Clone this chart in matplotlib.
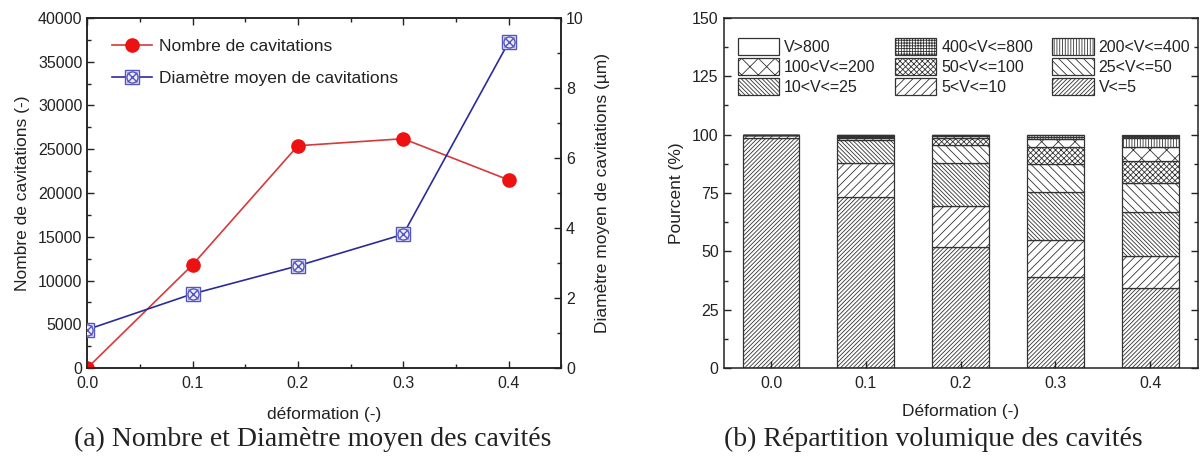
import numpy as np
import matplotlib
matplotlib.use("Agg")
import matplotlib.pyplot as plt
from matplotlib.ticker import MultipleLocator
from matplotlib.legend_handler import HandlerTuple

plt.rcParams['font.family'] = ['Liberation Sans', 'DejaVu Sans']
plt.rcParams['hatch.linewidth'] = 0.6
plt.rcParams['text.color'] = '#222222'
plt.rcParams['axes.labelcolor'] = '#222222'
plt.rcParams['xtick.color'] = '#222222'
plt.rcParams['ytick.color'] = '#222222'

# (a) data
strain = [0.0, 0.1, 0.2, 0.3, 0.4]
n_cav = [0, 11800, 25400, 26200, 21500]
d_moy = [1.1, 2.12, 2.92, 3.82, 9.3]

# (b) data: percentage per volume class, one list per class
strain_labels = ['0.0', '0.1', '0.2', '0.3', '0.4']
classes = ['V<=5', '5<V<=10', '10<V<=25', '25<V<=50', '50<V<=100',
           '100<V<=200', '200<V<=400', '400<V<=800', 'V>800']
v5 = [98.5, 73.5, 52.0, 39.0, 34.5]
v10 = [1.5, 14.5, 17.5, 16.0, 13.5]
v25 = [0.0, 9.5, 18.5, 20.5, 19.0]
v50 = [0.0, 1.2, 7.5, 12.0, 12.5]
v100 = [0.0, 0.5, 3.0, 7.0, 9.0]
v200 = [0.0, 0.4, 0.8, 3.5, 6.0]
v400 = [0.0, 0.2, 0.4, 1.2, 4.0]
v800 = [0.0, 0.1, 0.3, 0.5, 0.8]
vmax = [0.0, 0.1, 0.0, 0.3, 0.7]
hatches = ['/' * 8, '/' * 4, '\\' * 8, '\\' * 4, 'x' * 6, 'xx',
           '|' * 6, '+' * 6, '']

fig = plt.figure(figsize=(12.03, 4.59), dpi=100)

def style_ticks(ax):
    ax.tick_params(which='both', direction='in', labelsize=11.5)
    ax.tick_params(which='major', length=5, width=1)
    ax.tick_params(which='minor', length=3, width=1)
    for s in ax.spines.values():
        s.set_linewidth(1.1)
        s.set_color('#222222')

# ---- (a)
ax1 = fig.add_axes([0.0725, 0.198, 0.394, 0.763])
ax2 = ax1.twinx()
red_line, = ax1.plot(strain, n_cav, color='#d43a3a', lw=1.2, marker='o',
                     ms=9.5, mfc='#ee1111', mec='#ee1111', zorder=3)
ax1.set_xlim(0, 0.45)
ax1.set_ylim(0, 40000)
ax1.xaxis.set_major_locator(MultipleLocator(0.1))
ax1.xaxis.set_minor_locator(MultipleLocator(0.05))
ax1.yaxis.set_major_locator(MultipleLocator(5000))
ax1.yaxis.set_minor_locator(MultipleLocator(2500))
ax1.xaxis.set_major_formatter(lambda v, p: f'{v:.1f}')
ax1.tick_params(which='both', top=True)
style_ticks(ax1)
ax1.tick_params(axis='x', pad=6)
ax1.set_xlabel('déformation (-)', fontsize=12.5, labelpad=11)
ax1.set_ylabel('Nombre de cavitations (-)', fontsize=12.5, labelpad=6)

blue = '#2b2b9a'
bl, = ax2.plot(strain, d_moy, color=blue, lw=1.2, marker='s', ms=10,
               mfc='#eeeefa', mec='#5555c0', mew=1.0, zorder=3)
bc, = ax2.plot(strain, d_moy, ls='none', marker='o', ms=8, mfc='none',
               mec='#5555c0', mew=1.0, zorder=4)
bx, = ax2.plot(strain, d_moy, ls='none', marker='x', ms=7,
               mec='#5555c0', mew=1.0, zorder=4)
ax2.set_ylim(0, 10)
ax2.yaxis.set_major_locator(MultipleLocator(2))
ax2.yaxis.set_minor_locator(MultipleLocator(1))
style_ticks(ax2)
ax2.set_ylabel('Diamètre moyen de cavitations (µm)', fontsize=12.5, labelpad=8)

ax1.legend([red_line, (bl, bc, bx)],
           ['Nombre de cavitations', 'Diamètre moyen de cavitations'],
           handler_map={tuple: HandlerTuple(ndivide=1)},
           loc='upper left', bbox_to_anchor=(0.02, 0.985), frameon=False,
           fontsize=12.5, handlelength=2.3, labelspacing=0.95,
           handletextpad=0.4)

# ---- (b)
ax3 = fig.add_axes([0.6015, 0.198, 0.394, 0.763])
x = np.arange(len(strain_labels))
series = [v5, v10, v25, v50, v100, v200, v400, v800, vmax]
bottom = np.zeros(len(x))
patches = []
for vals, lab, h in zip(series, classes, hatches):
    b = ax3.bar(x, vals, width=0.6, bottom=bottom, color='white',
                edgecolor='#333333', linewidth=0.9, hatch=h, label=lab)
    patches.append(b)
    bottom += np.array(vals)
ax3.set_xlim(-0.5, 4.5)
ax3.set_ylim(0, 150)
ax3.set_xticks(x)
ax3.set_xticklabels(strain_labels)
ax3.yaxis.set_major_locator(MultipleLocator(25))
ax3.yaxis.set_minor_locator(MultipleLocator(12.5))
ax3.tick_params(which='both', right=True)
style_ticks(ax3)
ax3.tick_params(axis='x', pad=6)
ax3.set_xlabel('Déformation (-)', fontsize=12.5, labelpad=9)
ax3.set_ylabel('Pourcent (%)', fontsize=12.5, labelpad=6)

# legend rows read: V>800, 400-800, 200-400 / 100-200, 50-100, 25-50 / 10-25, 5-10, V<=5
order = [8, 5, 2, 7, 4, 1, 6, 3, 0]
ax3.legend([patches[i] for i in order], [classes[i] for i in order],
           ncol=3, loc='upper left', bbox_to_anchor=(0.03, 0.942),
           frameon=False, fontsize=11.5, handlelength=2.6,
           handleheight=1.25, labelspacing=0.2, columnspacing=1.2,
           handletextpad=0.3, borderaxespad=0.0, borderpad=0.0)

# captions
cap = ['Liberation Serif', 'DejaVu Serif']
fig.text(0.26, 0.042, '(a) Nombre et Diamètre moyen des cavités',
         ha='center', va='center', fontsize=20, family=cap)
fig.text(0.776, 0.042, '(b) Répartition volumique des cavités',
         ha='center', va='center', fontsize=20, family=cap)

fig.savefig('out.png', dpi=100)
